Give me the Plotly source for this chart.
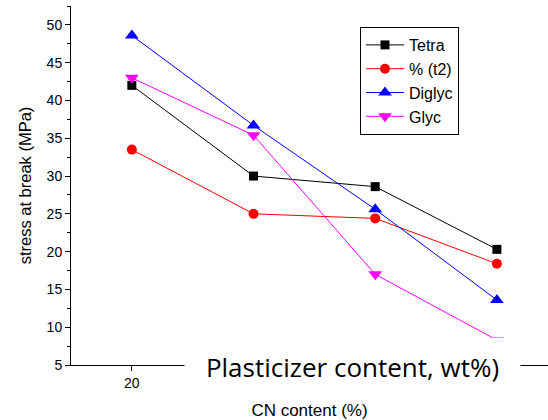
import plotly.graph_objects as go

cn_content = [20, 30, 40, 50]
x_tick_labels = ["20", "", "", ""]
tetra = [42.0, 30.0, 28.6, 20.3]
t2 = [33.5, 25.0, 24.4, 18.4]
diglyc = [48.6, 36.7, 25.6, 13.6]
glyc = [43.0, 35.4, 17.0, 8.3]

series = [
    ("Tetra", tetra, "#000000", "square", 9),
    ("% (t2)", t2, "#ff0000", "circle", 10),
    ("Diglyc", diglyc, "#0000ff", "triangle-up", 12),
    ("Glyc", glyc, "#ff00ff", "triangle-down", 12),
]

fig = go.Figure()
for name, vals, color, sym, sz in series:
    fig.add_trace(go.Scatter(
        x=cn_content, y=vals, name=name, mode="lines+markers",
        line=dict(color=color, width=1),
        marker=dict(symbol=sym, size=sz, color=color),
    ))

W, H = 548, 420
L, R, T, B = 71, 0, 6, 55

fig.update_layout(
    width=W, height=H,
    margin=dict(l=L, r=R, t=T, b=B),
    paper_bgcolor="white", plot_bgcolor="white",
    font=dict(family="Arial, Liberation Sans, sans-serif", color="#000000"),
    showlegend=True,
    legend=dict(
        x=(360 - L) / (W - L - R), y=(H - B - 27) / (H - B - T),
        xanchor="left", yanchor="top",
        bordercolor="#000000", borderwidth=1, bgcolor="white",
        font=dict(size=16, family="Arial, Liberation Sans, sans-serif", color="#000000"),
        itemwidth=38, tracegroupgap=0,
    ),
    xaxis=dict(
        range=[15, 54.2], tickvals=cn_content, ticktext=x_tick_labels,
        showgrid=False, zeroline=False, showline=True, linecolor="#000000", linewidth=1,
        ticks="outside", ticklen=5, tickcolor="#000000",
        tickfont=dict(size=14),
        title=dict(text="CN content (%)", font=dict(size=17), standoff=14),
    ),
    yaxis=dict(
        range=[5, 52.5], tickvals=[5, 10, 15, 20, 25, 30, 35, 40, 45, 50],
        showgrid=False, zeroline=False, showline=True, linecolor="#000000", linewidth=1,
        ticks="outside", ticklen=5, tickcolor="#000000",
        tickfont=dict(size=14),
        minor=dict(dtick=2.5, ticks="outside", ticklen=3, tickcolor="#000000"),
        title=dict(text="stress at break (MPa)", font=dict(size=16.5), standoff=10),
    ),
)

fig.add_annotation(
    text="Plasticizer content, wt%)",
    xref="paper", yref="paper",
    x=(352.5 - L) / (W - L - R), y=(H - B - 366.5) / (H - B - T),
    xanchor="center", yanchor="middle",
    width=335, height=57, borderpad=0,
    bgcolor="white", showarrow=False,
    font=dict(size=26, family="Open Sans", color="#000000"),
)

fig.write_html(
    "out.html",
    config={"displayModeBar": False},
    post_script="document.body.style.margin='0';document.body.style.padding='0';",
)
